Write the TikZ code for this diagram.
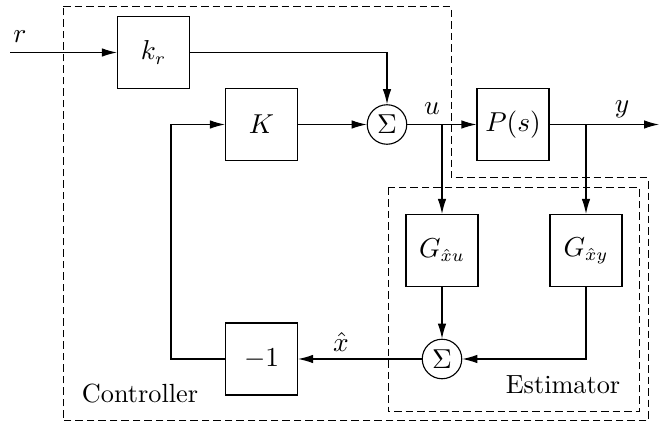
\documentclass[tikz,border=0pt]{standalone}
\usetikzlibrary{arrows.meta}
\begin{document}
\begin{tikzpicture}[x=0.4pt,y=-0.4pt,line width=0.45pt,
  blk/.style={draw,minimum width=28.8pt,minimum height=28.8pt,inner sep=0pt,font=\fontsize{10.5}{12}\selectfont},
  sumc/.style={draw,circle,minimum size=15.8pt,inner sep=0pt,font=\fontsize{10.5}{12}\selectfont},
  lbl/.style={inner sep=0pt,font=\fontsize{10.5}{12}\selectfont},
  sig/.style={-{Latex[length=6pt,width=3.4pt]}},
  frame/.style={dash pattern=on 3pt off 1.6pt,line width=0.4pt}]
\useasboundingbox (0,0) rectangle (659,424);
% frames
\draw[frame] (63,7) -- (451,7) -- (451,178) -- (648,178) -- (648,421) -- (63,421) -- cycle;
\draw[frame] (388,188) rectangle (639,412);
% blocks
\node[blk] (kr) at (153.5,52.5) {$k_r$};
\node[blk] (K) at (261.5,124.5) {$K$};
\node[sumc] (s1) at (387,124.5) {$\Sigma$};
\node[blk] (P) at (513,124.5) {$P(s)$};
\node[blk] (Gxu) at (442,250.5) {$G_{\hat{x}u}$};
\node[blk] (Gxy) at (586,250.5) {$G_{\hat{x}y}$};
\node[sumc] (s2) at (442,359) {$\Sigma$};
\node[blk] (m1) at (261.5,359) {$-1$};
% coordinates
\coordinate (rin) at (10,52.5);
\coordinate (yout) at (659,124.5);
\coordinate (bu) at (442,124.5);
\coordinate (by) at (586,124.5);
% labels
\node[lbl] at (20,37) {$r$};
\node[lbl] at (432,109) {$u$};
\node[lbl] at (622,109) {$y$};
\node[lbl] at (341,342) {$\hat{x}$};
\node[lbl] at (140,394) {Controller};
\node[lbl] at (563,385) {Estimator};
% connectors
\draw[sig] (rin) -- (kr.west);
\draw[sig] (kr.east) -| (s1.north);
\draw[sig] (K.east) -- (s1.west);
\draw[sig] (s1.east) -- (P.west);
\draw[sig] (bu) -- (Gxu.north);
\draw[sig] (P.east) -- (yout);
\draw[sig] (by) -- (Gxy.north);
\draw[sig] (Gxu.south) -- (s2.north);
\draw[sig] (Gxy.south) |- (s2.east);
\draw[sig] (s2.west) -- (m1.east);
\draw[sig] (m1.west) -- (171,359) |- (K.west);
\end{tikzpicture}
\end{document}
